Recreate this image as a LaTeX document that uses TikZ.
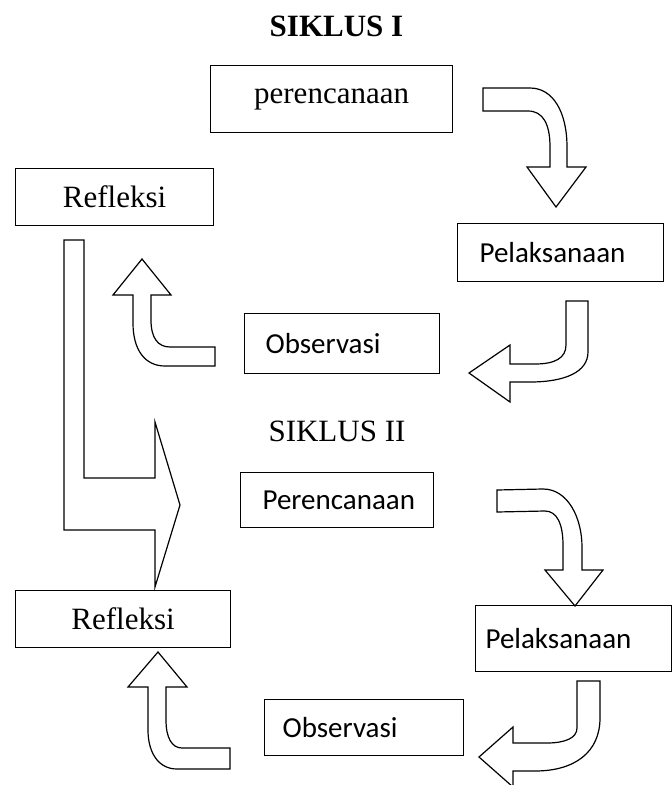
\documentclass[tikz,border=0pt]{standalone}
\usepackage{fontspec}
\setmainfont{Liberation Serif}
\newfontfamily\sansf{Carlito}
\begin{document}
\begin{tikzpicture}[x=1pt,y=-1pt,
  box/.style={draw, line width=1.2pt, rectangle, inner ysep=0pt, anchor=north west},
  serifbox/.style={box, inner xsep=0pt, font=\fontsize{31}{37}\selectfont, align=center},
  sansbox/.style={box, inner xsep=0pt, font=\sansf\fontsize{29}{35}\selectfont, align=left},
  title/.style={anchor=base, font=\fontsize{31}{37}\selectfont},
  blockarrow/.style={draw, line width=1.2pt, fill=white, line join=miter}]
\useasboundingbox (0,0) rectangle (672,785);

% titles
\node[title, font=\bfseries\fontsize{31}{37}\selectfont] (s1) at (336.5,36) {SIKLUS I};
\node[title] (s2) at (337,441) {SIKLUS II};

% boxes
\node[serifbox, minimum width=242pt, minimum height=67pt] (p1) at (210,65) {perencanaan};
\node[serifbox, minimum width=198pt, minimum height=57pt] (r1) at (15,168) {Refleksi};
\node[sansbox, text width=206pt, minimum height=58pt] (l1) at (457,223) {\hspace*{22pt}Pelaksanaan};
\node[sansbox, text width=195pt, minimum height=60pt] (o1) at (244,313) {\hspace*{21pt}Observasi};
\node[sansbox, text width=193pt, minimum height=55pt] (p2) at (240,472) {\hspace*{22pt}Perencanaan};
\node[serifbox, minimum width=215pt, minimum height=57pt] (r2) at (15,590) {Refleksi};
\node[sansbox, text width=196pt, minimum height=66pt] (l2) at (475,605) {\hspace*{10pt}Pelaksanaan};
\node[sansbox, text width=199pt, minimum height=56pt] (o2) at (264,699) {\hspace*{18pt}Observasi};

% arrow perencanaan -> Pelaksanaan (I)
\draw[blockarrow] (483,88) -- (530,88) .. controls (553,88) and (567,112) .. (567,147)
  -- (567,167) -- (586,167) -- (556,207) -- (527,167) -- (550,167) -- (550,147)
  .. controls (550,124) and (543,111) .. (528,111) -- (483,111) -- cycle;

% arrow Pelaksanaan -> Observasi (I)
\draw[blockarrow] (566,301) -- (588,301) -- (588,352)
  .. controls (588,372) and (565,382) .. (530,382) -- (510,382) -- (510,402)
  -- (469,373) -- (510,345) -- (510,364) -- (535,364)
  .. controls (555,364) and (566,358) .. (566,345) -- cycle;

% arrow Observasi -> Refleksi (I)
\draw[blockarrow] (142,259) -- (171,295) -- (151,295) -- (151,320)
  .. controls (151,338) and (158,347) .. (170,347) -- (215,347) -- (215,366)
  -- (165,366) .. controls (145,366) and (133,350) .. (133,323) -- (133,295)
  -- (113,295) -- cycle;

% big arrow Refleksi I -> Siklus II
\draw[blockarrow] (64,240) -- (84,240) -- (84,478) -- (155,478) -- (155,422)
  -- (180,505) -- (155,587) -- (155,530) -- (64,530) -- cycle;

% arrow Perencanaan -> Pelaksanaan (II)
\draw[blockarrow] (497,490) -- (543,489) .. controls (568,489) and (582,518) .. (582,547)
  -- (582,570) -- (603,570) -- (575,606) -- (545,570) -- (563,570) -- (563,545)
  .. controls (563,524) and (557,511) .. (545,511) -- (497,512) -- cycle;

% arrow Pelaksanaan -> Observasi (II)
\draw[blockarrow] (577,681) -- (600,681) -- (600,718)
  .. controls (600,752) and (575,771) .. (535,771) -- (513,771) -- (513,787)
  -- (479,757) -- (513,727) -- (513,743) -- (547,743)
  .. controls (565,743) and (577,738) .. (577,728) -- cycle;

% arrow Observasi -> Refleksi (II)
\draw[blockarrow] (158,652) -- (187,687) -- (166,687) -- (166,720)
  .. controls (166,738) and (172,748) .. (182,748) -- (230,748) -- (230,769)
  -- (177,769) .. controls (158,769) and (148,752) .. (148,730) -- (148,687)
  -- (128,687) -- cycle;
\end{tikzpicture}
\end{document}
